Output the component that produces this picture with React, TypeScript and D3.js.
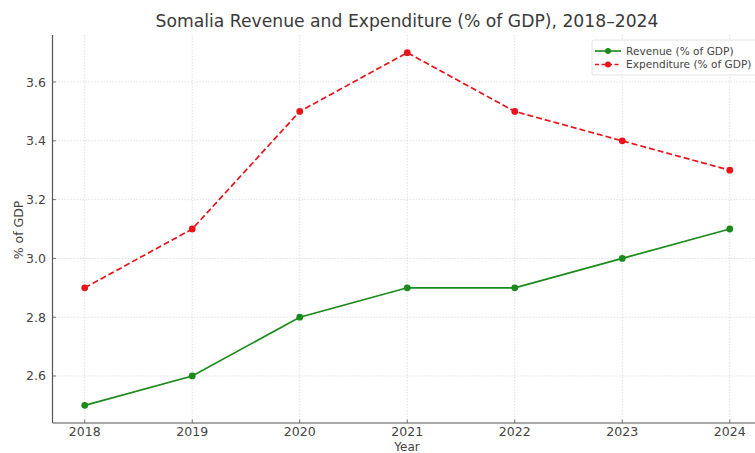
import React from "react";
import * as d3 from "d3";

const years = [2018, 2019, 2020, 2021, 2022, 2023, 2024];
const revenue = [2.5, 2.6, 2.8, 2.9, 2.9, 3.0, 3.1];
const expenditure = [2.9, 3.1, 3.5, 3.7, 3.5, 3.4, 3.3];
const yTicks = [2.6, 2.8, 3.0, 3.2, 3.4, 3.6];
const title = "Somalia Revenue and Expenditure (% of GDP), 2018–2024";
const seriesNames = ["Revenue (% of GDP)", "Expenditure (% of GDP)"];

const W = 755;
const H = 453;
const left = 52.5;
const right = 762;
const top = 35;
const bottom = 423;
const font = "'DejaVu Sans', sans-serif";

export default function App() {
  const x = d3.scaleLinear().domain([2017.7, 2024.3]).range([left, right]);
  const y = d3.scaleLinear().domain([2.44, 3.76]).range([bottom, top]);
  const line = d3
    .line<number>()
    .x((_, i) => x(years[i]))
    .y((d) => y(d));

  const series = [
    { name: seriesNames[0], values: revenue, color: "#1a8a1a", dash: "" },
    { name: seriesNames[1], values: expenditure, color: "#e8141a", dash: "6,3" },
  ];

  return (
    <svg
      width={W}
      height={H}
      style={{ position: "absolute", left: 0, top: 0, background: "#fff" }}
      fontFamily={font}
    >
      <rect x={0} y={0} width={W} height={H} fill="#fff" />
      {/* grid */}
      {years.map((yr) => (
        <line
          key={"gx" + yr}
          x1={x(yr)}
          x2={x(yr)}
          y1={top}
          y2={bottom}
          stroke="#d9d9d9"
          strokeWidth={0.8}
          strokeDasharray="1.5,1.5"
        />
      ))}
      {yTicks.map((t) => (
        <line
          key={"gy" + t}
          x1={left}
          x2={right}
          y1={y(t)}
          y2={y(t)}
          stroke="#d9d9d9"
          strokeWidth={0.8}
          strokeDasharray="1.5,1.5"
        />
      ))}
      {/* axes */}
      <line x1={left} x2={left} y1={top} y2={bottom} stroke="#555" strokeWidth={1.2} />
      <line x1={left} x2={right} y1={bottom} y2={bottom} stroke="#555" strokeWidth={1.2} />
      {years.map((yr) => (
        <g key={"tx" + yr}>
          <line x1={x(yr)} x2={x(yr)} y1={bottom} y2={bottom - 3.5} stroke="#555" strokeWidth={0.8} />
          <text x={x(yr)} y={436} textAnchor="middle" fontSize={12.5} fill="#444">
            {yr}
          </text>
        </g>
      ))}
      {yTicks.map((t) => (
        <g key={"ty" + t}>
          <line x1={left} x2={left + 3.5} y1={y(t)} y2={y(t)} stroke="#555" strokeWidth={0.8} />
          <text x={46} y={y(t) + 4.5} textAnchor="end" fontSize={12.5} fill="#444">
            {d3.format(".1f")(t)}
          </text>
        </g>
      ))}
      <text x={407} y={450.5} textAnchor="middle" fontSize={12} fill="#444">
        Year
      </text>
      <text
        transform={`translate(23,230) rotate(-90)`}
        textAnchor="middle"
        fontSize={12.5}
        fill="#444"
      >
        % of GDP
      </text>
      <text x={407} y={27} textAnchor="middle" fontSize={17.2} fill="#3a3a3a">
        {title}
      </text>
      {/* series */}
      {series.map((s) => (
        <g key={s.name}>
          <path
            d={line(s.values) || ""}
            fill="none"
            stroke={s.color}
            strokeWidth={1.7}
            strokeDasharray={s.dash}
          />
          {s.values.map((v, i) => (
            <circle key={i} cx={x(years[i])} cy={y(v)} r={3.4} fill={s.color} />
          ))}
        </g>
      ))}
      {/* legend */}
      <rect x={592} y={40} width={170} height={35} rx={2} fill="#fff" stroke="#ddd" strokeWidth={0.8} />
      {series.map((s, i) => (
        <g key={"lg" + i} transform={`translate(0,${51 + i * 13.5})`}>
          <line x1={595} x2={621} y1={0} y2={0} stroke={s.color} strokeWidth={1.6} strokeDasharray={s.dash ? "4,2.5" : ""} />
          <circle cx={608} cy={0} r={3} fill={s.color} />
          <text x={626} y={3.8} fontSize={10.6} fill="#444">
            {s.name}
          </text>
        </g>
      ))}
    </svg>
  );
}
